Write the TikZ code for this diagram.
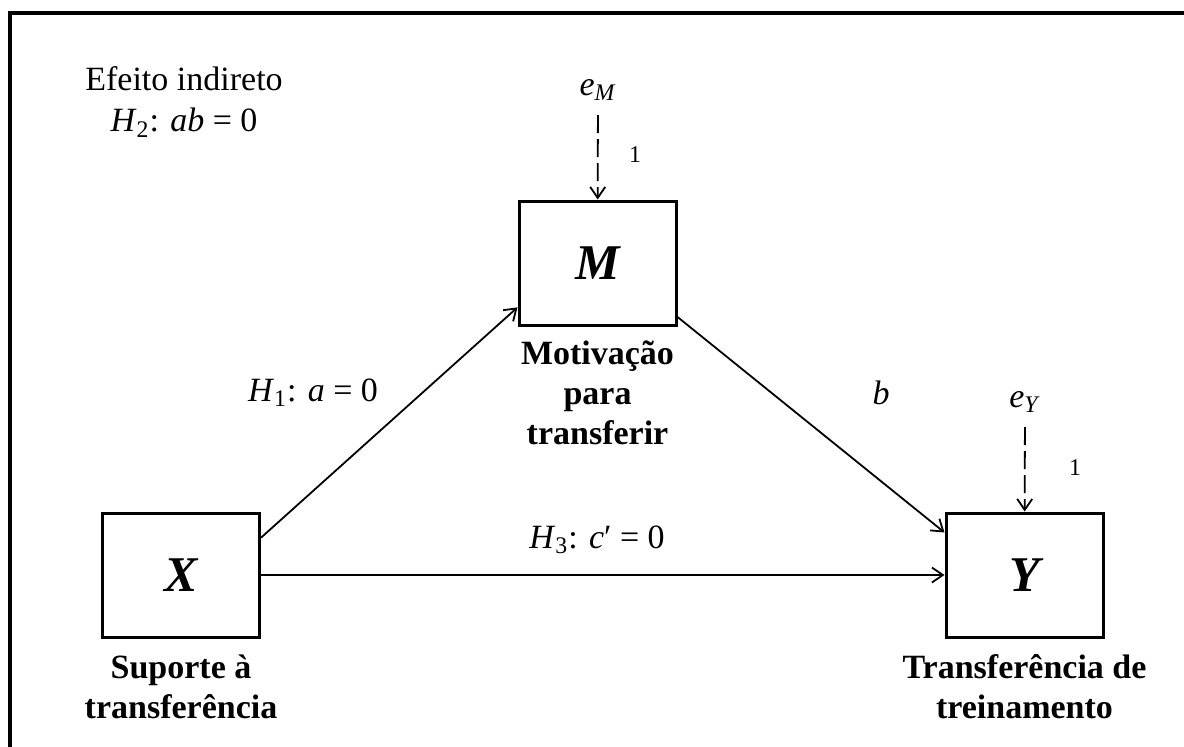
\documentclass[tikz,border=0pt]{standalone}
\usepackage{fontspec}
\setmainfont{Liberation Serif}
\usetikzlibrary{arrows.meta, positioning}

\begin{document}
\begin{tikzpicture}[
  x=0.5pt, y=-0.5pt,
  node distance=6pt,
  var/.style={draw, line width=1.5pt, minimum width=78.5pt, minimum height=62pt,
              font=\fontsize{25}{30}\selectfont\bfseries\itshape},
  caption/.style={font=\fontsize{17}{20}\selectfont\bfseries, align=center, inner sep=1pt},
  coef/.style={font=\fontsize{17}{20.5}\selectfont, align=center},
  err/.style={font=\fontsize{17}{19}\selectfont, inner sep=1pt},
  fix/.style={font=\fontsize{12}{14}\selectfont},
  link/.style={-{Straight Barb[length=5.5pt, width=7.5pt]}, line width=0.9pt},
  errlink/.style={link, dash pattern=on 9pt off 3pt, shorten <=6pt},
]
  \useasboundingbox (0,0) rectangle (1184,746);
  \draw[line width=2pt] (10,760) -- (10,13) -- (1200,13);

  % variables
  \node[var] (X) at (181,575) {X};
  \node[var] (M) at (597.5,263) {M};
  \node[var] (Y) at (1024.5,575) {Y};
  \node[caption, below=7pt of X] (Xlab) {Suporte à\\transferência};
  \node[caption, below=6pt of M] (Mlab) {Motivação\\para\\transferir};
  \node[caption, below=7pt of Y] (Ylab) {Transferência de\\treinamento};

  % residuals
  \node[err] (eM) at (598,90) {\textit{e}\textsubscript{\textit{M}}};
  \node[err] (eY) at (1025,402) {\textit{e}\textsubscript{\textit{Y}}};
  \node[fix] (oneM) at (635,155) {1};
  \node[fix] (oneY) at (1075,468) {1};

  % hypotheses
  \node[coef] (effect) at (184,102) {Efeito indireto\\\textit{H}\textsubscript{2}: \textit{ab} = 0};
  \node[coef] (H1) at (313,393) {\textit{H}\textsubscript{1}: \textit{a} = 0};
  \node[coef] (bcoef) at (881,393) {\textit{b}};
  \node[coef] (H3) at (597,540) {\textit{H}\textsubscript{3}: \textit{c}′ = 0};

  \draw[link] (X.25) -- (M.209);
  \draw[link] (M.-34) -- (Y.152);
  \draw[link] (X) -- (Y);
  \draw[errlink] (eM) -- (M);
  \draw[errlink] (eY) -- (Y);
\end{tikzpicture}
\end{document}
